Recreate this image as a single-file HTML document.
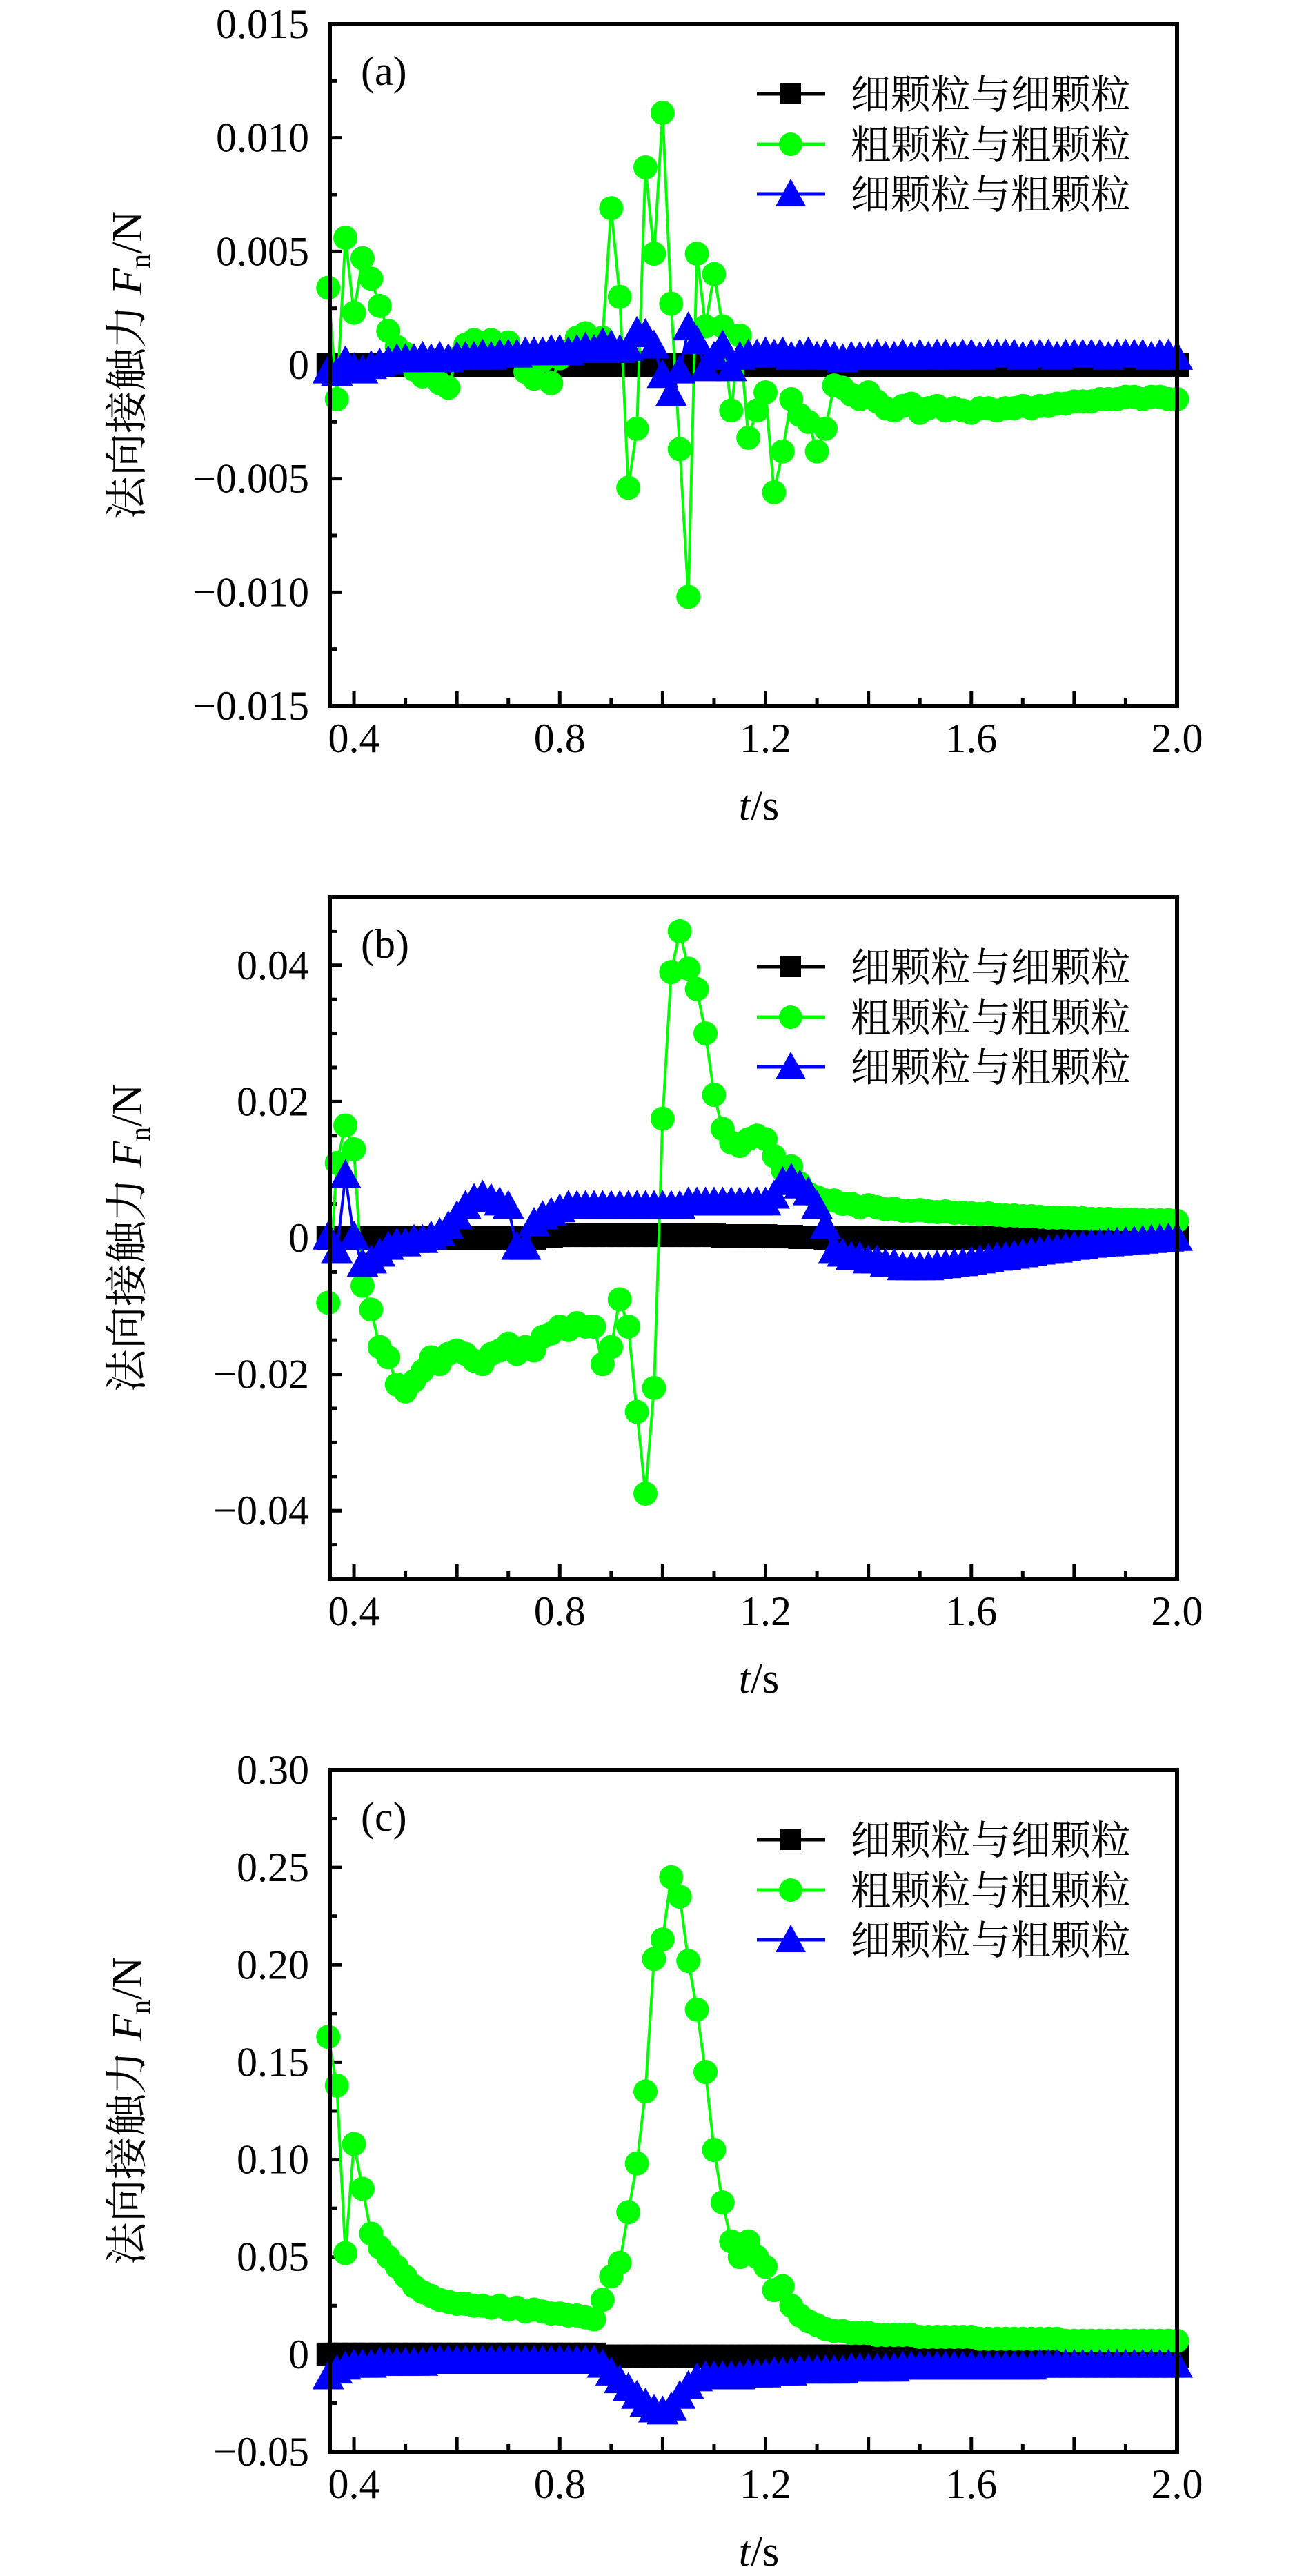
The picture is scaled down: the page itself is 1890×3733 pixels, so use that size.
<!DOCTYPE html>
<html><head><meta charset="utf-8"><title>法向接触力</title>
<style>
html,body{margin:0;padding:0;background:#fff;}
svg{display:block;}
text{font-family:"Liberation Serif","Noto Serif CJK SC","Noto Sans CJK SC",serif;fill:#000;}
</style></head>
<body>
<svg id="chart" width="1890" height="3733" viewBox="0 0 1890 3733" xmlns="http://www.w3.org/2000/svg"></svg>
<script>
// time axis: 100 samples from 0.35 s to 2.0 s
const tFirst = 0.35;
const tLast = 2.0;
const sampleCount = 100;

// panel (a), units of 1e-3 N
const aBlack = [0,0,0,0,-0.1,0,0,0,0,0, 0,0,0,0,0,0,0,0,0,0, 0,0,0,0,0,0,0,0,0,0, 0,0,0,0,0,0,0.1,0,0,0, -0.1,0,0,0,0,0,0,0,0,0, 0,0,0,0,0,0,0,0,0,0, 0,0,0,0,0,0,0,0,0,0, 0,0,0,0,0,0,0,0,0,0, 0,0,0,0,0,0,0,0,0,0, 0,0,0,0,0,0,0,0,0,0];
const aGreen = [3.4,-1.5,5.6,2.3,4.7,3.8,2.6,1.5,0.8,0.5, -0.2,-0.5,-0.4,-0.8,-1.0,0.3,0.9,1.1,0.6,1.1, 0.8,1.0,0.4,-0.3,-0.6,0.2,-0.8,0.3,0.6,1.2, 1.4,0.9,1.2,6.9,3.0,-5.4,-2.8,8.7,4.9,11.1, 2.7,-3.7,-10.2,4.9,1.7,4.0,1.7,-2.0,1.3,-3.2, -2.0,-1.2,-5.6,-3.8,-1.5,-2.2,-2.5,-3.8,-2.8,-0.9, -1.0,-1.3,-1.5,-1.2,-1.6,-1.9,-2.0,-1.8,-1.7,-2.1, -1.9,-1.8,-2.0,-1.9,-2.0,-2.1,-1.9,-1.9,-2.0,-1.9, -1.9,-1.8,-1.9,-1.8,-1.8,-1.7,-1.7,-1.6,-1.6,-1.6, -1.5,-1.5,-1.5,-1.4,-1.4,-1.5,-1.4,-1.4,-1.5,-1.5];
const aBlue = [-0.3,-0.4,0.1,-0.2,-0.3,-0.1,0.0,0.1,0.2,0.2, 0.2,0.3,0.2,0.3,0.2,0.3,0.3,0.3,0.4,0.3, 0.4,0.4,0.4,0.5,0.5,0.5,0.6,0.6,0.5,0.6, 0.7,0.6,0.9,0.8,0.6,0.7,1.4,1.3,0.8,-0.5, -1.3,-0.3,1.6,1.0,-0.2,0.3,0.8,-0.2,0.3,0.4, 0.4,0.5,0.4,0.5,0.3,0.4,0.5,0.3,0.4,0.3, 0.2,0.3,0.3,0.3,0.4,0.3,0.3,0.4,0.3,0.4, 0.3,0.4,0.4,0.3,0.4,0.4,0.3,0.4,0.4,0.4, 0.4,0.3,0.4,0.4,0.4,0.3,0.4,0.4,0.4,0.4, 0.4,0.3,0.4,0.4,0.4,0.4,0.3,0.4,0.4,0.3];

// panel (b), units of 1e-3 N
const bBlack = [0,0,0,0,0,0,0,0,0,0, 0,0,0,0,0,0,0,0,0,0, 0,0,0,0,0,0.2,0.3,0.4,0.4,0.4, 0.4,0.4,0.4,0.4,0.4,0.4,0.4,0.4,0.4,0.4, 0.4,0.4,0.4,0.4,0.4,0.4,0.3,0.3,0.3,0.3, 0.3,0.3,0.2,0.2,0.2,0.1,0.1,0.1,0,0, 0,0,0,0,0,0,0,0,0,0, 0,0,0,0,0,0,0,0,0,0, 0,0,0,0,0,0,0,0,0,0, 0,0,0,0,0,0,0,0,0,0];
const bGreen = [-9.5,11,16.5,13,-7,-10.5,-16,-17.5,-21.5,-22.5, -21,-19.5,-17.5,-18.5,-17,-16.5,-17,-18,-18.5,-17, -16.5,-15.5,-17,-16,-16.5,-14.5,-14,-13,-13.5,-12.5, -13,-13,-18.5,-16,-9,-13,-25.5,-37.5,-22,17.5, 39,45,39.5,36.5,30,21,16,14,13.5,14.5, 15,14.5,12,10,10.5,8,6.5,6,5.5,5.5, 5,5,4.5,4.8,4.5,4.2,4.3,4,4,4.1, 3.9,3.8,3.9,3.7,3.7,3.6,3.5,3.6,3.4,3.3, 3.3,3.2,3.2,3.1,3,3,3,2.9,2.9,2.8, 2.8,2.8,2.7,2.7,2.7,2.6,2.6,2.6,2.6,2.5];
const bBlue = [0,-2,9,0,-4,-3.5,-2.5,-1.5,-1,-1, -0.5,-0.5,0,0.5,1.5,3,4.5,5.5,6,5.5, 5,4.5,-1.5,-1.5,2,3,3.5,4,4.5,4.5, 4.5,4.5,4.5,4.5,4.5,4.5,4.5,4.5,4.5,4.5, 4.5,4.5,5,5,5,5,5,5,5,5, 5,5,6,8,8.5,7.5,6.5,4.5,1.5,-2, -2.5,-3,-3,-3.5,-3.5,-4,-4,-4.5,-4.5,-4.5, -4.5,-4.3,-4.2,-4,-3.9,-3.7,-3.5,-3.3,-3.1,-3, -2.8,-2.6,-2.4,-2.2,-2,-1.9,-1.7,-1.5,-1.4,-1.2, -1.1,-1,-0.9,-0.8,-0.7,-0.6,-0.5,-0.4,-0.3,-0.2];

// panel (c), units of N
const cBlack = [0,0,0,0,0,0,0,0,0,0, 0,0,0,0,0,0,0,0,0,0, 0,0,0,0,0,0,0,0,0,0, 0,0,-0.001,-0.001,-0.001,-0.001,-0.001,-0.001,-0.001,-0.001, -0.001,-0.001,-0.001,-0.001,-0.001,-0.001,-0.001,-0.001,-0.001,-0.001, -0.001,-0.001,-0.001,-0.001,-0.001,-0.001,-0.001,-0.001,-0.001,-0.001, -0.001,-0.001,-0.001,-0.001,-0.001,-0.001,-0.001,-0.001,-0.001,-0.001, -0.001,-0.001,-0.001,-0.001,-0.001,-0.001,-0.001,-0.001,-0.001,-0.001, -0.001,-0.001,-0.001,-0.001,-0.001,-0.001,-0.001,-0.001,-0.001,-0.001, -0.001,-0.001,-0.001,-0.001,-0.001,-0.001,-0.001,-0.001,-0.001,-0.001];
const cGreen = [0.163,0.138,0.052,0.108,0.085,0.062,0.055,0.050,0.045,0.040, 0.035,0.032,0.030,0.028,0.027,0.026,0.026,0.025,0.025,0.024, 0.025,0.023,0.024,0.022,0.023,0.022,0.021,0.021,0.020,0.020, 0.019,0.018,0.028,0.040,0.047,0.073,0.098,0.135,0.203,0.213, 0.245,0.235,0.202,0.177,0.145,0.105,0.078,0.058,0.050,0.058, 0.050,0.045,0.033,0.035,0.025,0.020,0.017,0.015,0.013,0.012, 0.012,0.011,0.011,0.011,0.010,0.010,0.010,0.010,0.010,0.009, 0.009,0.009,0.009,0.009,0.009,0.009,0.008,0.008,0.008,0.008, 0.008,0.008,0.008,0.008,0.008,0.008,0.007,0.007,0.007,0.007, 0.007,0.007,0.007,0.007,0.007,0.007,0.007,0.007,0.007,0.007];
const cBlue = [-0.012,-0.009,-0.007,-0.006,-0.006,-0.006,-0.005,-0.005,-0.005,-0.005, -0.005,-0.005,-0.004,-0.004,-0.004,-0.004,-0.004,-0.004,-0.004,-0.004, -0.004,-0.004,-0.004,-0.004,-0.004,-0.004,-0.004,-0.004,-0.004,-0.004, -0.004,-0.004,-0.006,-0.010,-0.014,-0.018,-0.022,-0.026,-0.029,-0.030, -0.028,-0.022,-0.017,-0.013,-0.012,-0.012,-0.012,-0.012,-0.012,-0.011, -0.011,-0.011,-0.010,-0.010,-0.010,-0.009,-0.009,-0.009,-0.009,-0.009, -0.009,-0.008,-0.008,-0.008,-0.008,-0.008,-0.008,-0.007,-0.007,-0.007, -0.007,-0.007,-0.007,-0.007,-0.007,-0.007,-0.007,-0.007,-0.007,-0.007, -0.007,-0.007,-0.007,-0.006,-0.006,-0.006,-0.006,-0.006,-0.006,-0.006, -0.006,-0.006,-0.006,-0.006,-0.006,-0.006,-0.006,-0.006,-0.006,-0.006];

// tick labels
const xTickLabels = ["0.4","0.8","1.2","1.6","2.0"];
const xTickValues = [0.4,0.8,1.2,1.6,2.0];
const aTickValues = [0.015,0.010,0.005,0,-0.005,-0.010,-0.015];
const aTickLabels = ["0.015","0.010","0.005","0","\u22120.005","\u22120.010","\u22120.015"];
const bTickValues = [0.04,0.02,0,-0.02,-0.04];
const bTickLabels = ["0.04","0.02","0","\u22120.02","\u22120.04"];
const cTickValues = [0.30,0.25,0.20,0.15,0.10,0.05,0,-0.05];
const cTickLabels = ["0.30","0.25","0.20","0.15","0.10","0.05","0","\u22120.05"];
const legendLabels = ["细颗粒与细颗粒","粗颗粒与粗颗粒","细颗粒与粗颗粒"];

const NS = "http://www.w3.org/2000/svg";
const svg = document.getElementById("chart");
const L = 478, R = 1706, H = 988;
const XMIN = 0.353, XMAX = 2.0;
function xs(t){ return L + (t - XMIN) / (XMAX - XMIN) * (R - L); }
function mk(tag, attrs, parent){
  const e = document.createElementNS(NS, tag);
  for (const k in attrs) e.setAttribute(k, attrs[k]);
  (parent || svg).appendChild(e);
  return e;
}
function tAt(i){ return tFirst + i * (tLast - tFirst) / (sampleCount - 1); }

const panels = [
  {id:"a", top:35, ymin:-0.015, ymax:0.015, unit:0.001, minor:0.0025, tv:aTickValues, tl:aTickLabels, black:aBlack, green:aGreen, blue:aBlue},
  {id:"b", top:1300, ymin:-0.05, ymax:0.05, unit:0.001, minor:0.005, tv:bTickValues, tl:bTickLabels, black:bBlack, green:bGreen, blue:bBlue},
  {id:"c", top:2565, ymin:-0.05, ymax:0.30, unit:1, minor:0.025, tv:cTickValues, tl:cTickLabels, black:cBlack, green:cGreen, blue:cBlue}
];

function square(g, x, y, s){
  const e = mk("rect", {x:x-s/2, y:y-s/2, width:s, height:s, fill:"#000"}, g);
  
  
}
function circle(g, x, y, r){
  const e = mk("circle", {cx:x, cy:y, r:r, fill:"#00ff00"}, g);
  
  
}
function tri(g, x, y, w, h){
  const e = mk("polygon", {points:(x)+","+(y-h*0.6)+" "+(x-w/2)+","+(y+h*0.4)+" "+(x+w/2)+","+(y+h*0.4), fill:"#0000ff"}, g);
  
  
}

panels.forEach(function(p){
  const top = p.top, bot = top + H;
  const ys = function(v){ return bot - (v - p.ymin) / (p.ymax - p.ymin) * H; };
  const g = mk("g", {});
  
  

  const nMin = Math.round((p.ymax - p.ymin) / p.minor);
  for (let k = 1; k < nMin; k++){
    const v = p.ymin + k * p.minor;
    const isMajor = p.tv.some(function(t){ return Math.abs(t - v) < 1e-9; });
    const tk = mk("line", {x1:L, x2:L + (isMajor ? 18 : 10), y1:ys(v), y2:ys(v), stroke:"#000", "stroke-width":5}, g);
    
    
  }
  p.tv.forEach(function(v, i){
    const tx = mk("text", {x:448, y:ys(v) + 20, "text-anchor":"end", "font-size":60}, g);
    tx.textContent = p.tl[i];
    
    
  });
  for (let k = 4; k <= 20; k++){
    const t = k / 10;
    const major = (k % 2 === 0);
    const tk = mk("line", {x1:xs(t), x2:xs(t), y1:bot, y2:bot - (major ? 21 : 12), stroke:"#000", "stroke-width":5}, g);
    
    
  }
  xTickValues.forEach(function(t, i){
    const tx = mk("text", {x:xs(t), y:bot + 67, "text-anchor":"middle", "font-size":60}, g);
    tx.textContent = xTickLabels[i];
    
    
  });
  const xt = mk("text", {x:1100, y:bot + 165, "text-anchor":"middle", "font-size":62}, g);
  
  
  const xt1 = mk("tspan", {"font-style":"italic"}, xt); xt1.textContent = "t";
  const xt2 = mk("tspan", {}, xt); xt2.textContent = "/s";
  const cy = (top + bot) / 2;
  const yt = mk("text", {x:0, y:0, "text-anchor":"middle", "font-size":62, transform:"translate(205," + cy + ") rotate(-90)"}, g);
  
  
  const y1 = mk("tspan", {}, yt); y1.textContent = "法向接触力 ";
  const y2 = mk("tspan", {"font-style":"italic"}, yt); y2.textContent = "F";
  const y3 = mk("tspan", {"font-size":42, dy:12}, yt); y3.textContent = "n";
  const y4 = mk("tspan", {dy:-12}, yt); y4.textContent = "/N";

  const series = [
    {vals:p.black, color:"#000", name:"black-series"},
    {vals:p.green, color:"#00ff00", name:"green-series"},
    {vals:p.blue, color:"#0000ff", name:"blue-series"}
  ];
  series.forEach(function(s, si){
    const sg = mk("g", {}, g);
    
    
    let d = "";
    s.vals.forEach(function(v, i){
      d += (i ? "L" : "M") + xs(tAt(i)).toFixed(1) + "," + ys(v * p.unit).toFixed(1);
    });
    const ln = mk("path", {d:d, fill:"none", stroke:s.color, "stroke-width":4, "stroke-linejoin":"round"}, sg);
    
    
    s.vals.forEach(function(v, i){
      const x = xs(tAt(i)), y = ys(v * p.unit);
      if (si === 0) square(sg, x, y, 34);
      else if (si === 1) circle(sg, x, y, 17.5);
      else tri(sg, x, y, 46, 42);
    });
  });

  const fr = mk("rect", {x:L, y:top, width:R - L, height:H, fill:"none", stroke:"#000", "stroke-width":6}, g);
  
  

  const pl = mk("text", {x:523, y:top + 88, "font-size":60}, g);
  pl.textContent = "(" + p.id + ")";
  
  

  const lg = mk("g", {}, g);
  
  
  const rows = [101, 174, 246];
  const cols = ["#000", "#00ff00", "#0000ff"];
  rows.forEach(function(off, i){
    const ry = top + off;
    const e = mk("g", {}, lg);
    
    
    const l1 = mk("line", {x1:1097, x2:1196, y1:ry, y2:ry, stroke:cols[i], "stroke-width":5}, e);
    
    
    if (i === 0) square(e, 1146, ry, 30);
    else if (i === 1) circle(e, 1146, ry, 17);
    else tri(e, 1146, ry + 2, 44, 40);
    const lt = mk("text", {x:1233, y:ry + 21, "font-size":58}, e);
    lt.textContent = legendLabels[i];
    
    
  });
});
</script>
</body></html>
